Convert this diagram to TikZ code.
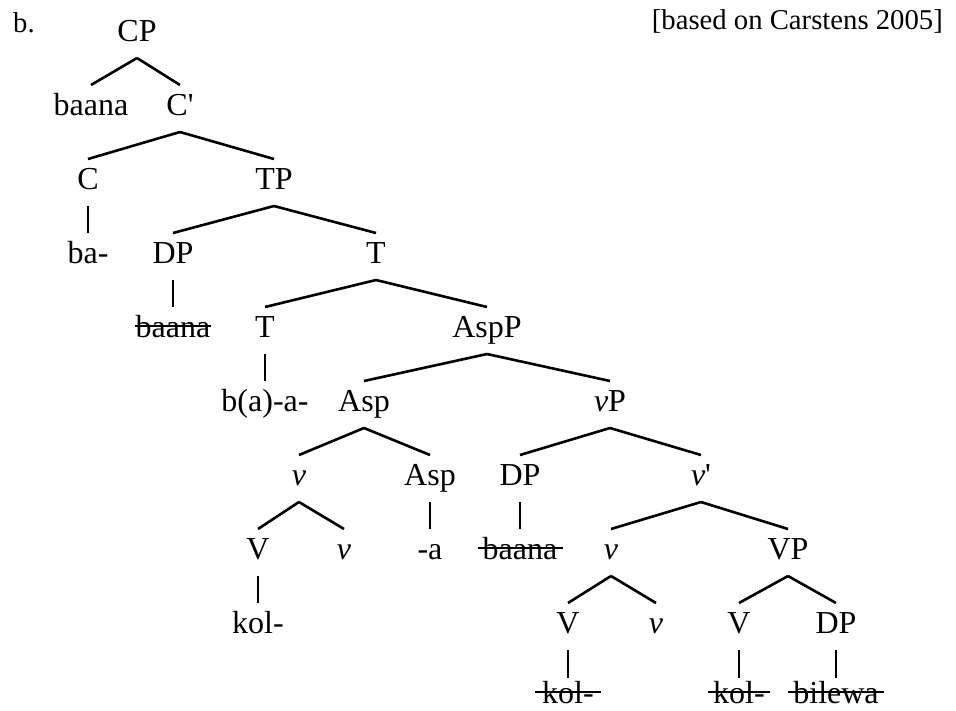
\documentclass[tikz,border=0pt]{standalone}
\usepackage{fontspec}
\setmainfont{Liberation Serif}[Ligatures=TeXOff]
\usetikzlibrary{calc}
\begin{document}
\begin{tikzpicture}[x=1pt,y=-1pt,
  lab/.style={anchor=base,inner sep=0pt,font=\fontsize{32}{32}\selectfont},
  head/.style={inner sep=0pt,font=\fontsize{28.7}{29}\selectfont},
  branch/.style={line width=2.6pt},
  strike/.style={line width=1.8pt}]
\useasboundingbox[fill=white] (0,0) rectangle (956,710);
% header
\node[head,anchor=base west] (blabel) at (13,32) {b.};
\node[head,anchor=base east] (source) at (943,29) {[based on Carstens 2005]};
% row 1
\node[lab] (CP) at (137,41) {CP};
% row 2
\node[lab] (baanaA) at (91,115) {baana};
\node[lab] (Cbar) at (180,115) {C'};
% row 3
\node[lab] (C) at (88,189) {C};
\node[lab] (TP) at (274,189) {TP};
% row 4
\node[lab] (ba) at (88,263) {ba-};
\node[lab] (DPa) at (173,263) {DP};
\node[lab] (Tbar) at (376,263) {T};
% row 5
\node[lab] (baanaB) at (173,337) {baana};
\node[lab] (T) at (265,337) {T};
\node[lab] (AspP) at (487,337) {AspP};
% row 6
\node[lab] (baa) at (265,411) {b(a)-a-};
\node[lab] (AspA) at (364,411) {Asp};
\node[lab] (vP) at (610,411) {\textit{v}P};
% row 7
\node[lab] (vA) at (299,485) {\textit{v}};
\node[lab] (AspB) at (430,485) {Asp};
\node[lab] (DPb) at (520,485) {DP};
\node[lab] (vbar) at (701,485) {\textit{v}'};
% row 8
\node[lab] (VA) at (258,559) {V};
\node[lab] (vB) at (344,559) {\textit{v}};
\node[lab] (a) at (430,559) {-a};
\node[lab] (baanaC) at (520,559) {baana};
\node[lab] (vC) at (611,559) {\textit{v}};
\node[lab] (VP) at (788,559) {VP};
% row 9
\node[lab] (kolA) at (258,633) {kol-};
\node[lab] (VB) at (568,633) {V};
\node[lab] (vD) at (656,633) {\textit{v}};
\node[lab] (VC) at (739,633) {V};
\node[lab] (DPc) at (836,633) {DP};
% row 10
\node[lab] (kolB) at (568,703) {kol-};
\node[lab] (kolC) at (739,703) {kol-};
\node[lab] (bilewa) at (836,703) {bilewa};
% branches
\foreach \p/\c in {CP/baanaA, CP/Cbar, Cbar/C, Cbar/TP, C/ba, TP/DPa, TP/Tbar,
  DPa/baanaB, Tbar/T, Tbar/AspP, T/baa, AspP/AspA, AspP/vP, AspA/vA, AspA/AspB,
  vP/DPb, vP/vbar, vA/VA, vA/vB, AspB/a, DPb/baanaC, vbar/vC, vbar/VP, VA/kolA,
  vC/VB, vC/vD, VP/VC, VP/DPc}
  \draw[branch] ($(\p.base)+(0,17)$) -- ($(\c.base)+(0,-30)$);
\foreach \p/\c in {VB/kolB, VC/kolC, DPc/bilewa}
  \draw[branch] ($(\p.base)+(0,17)$) -- ($(\c.base)+(0,-25)$);
% strike-through
\foreach \n/\e in {baanaB/0, baanaC/5, kolB/7, kolC/5, bilewa/5}
  \draw[strike] ($(\n.base west)+(-\e,-11)$) -- ($(\n.base east)+(\e,-11)$);
\end{tikzpicture}
\end{document}
